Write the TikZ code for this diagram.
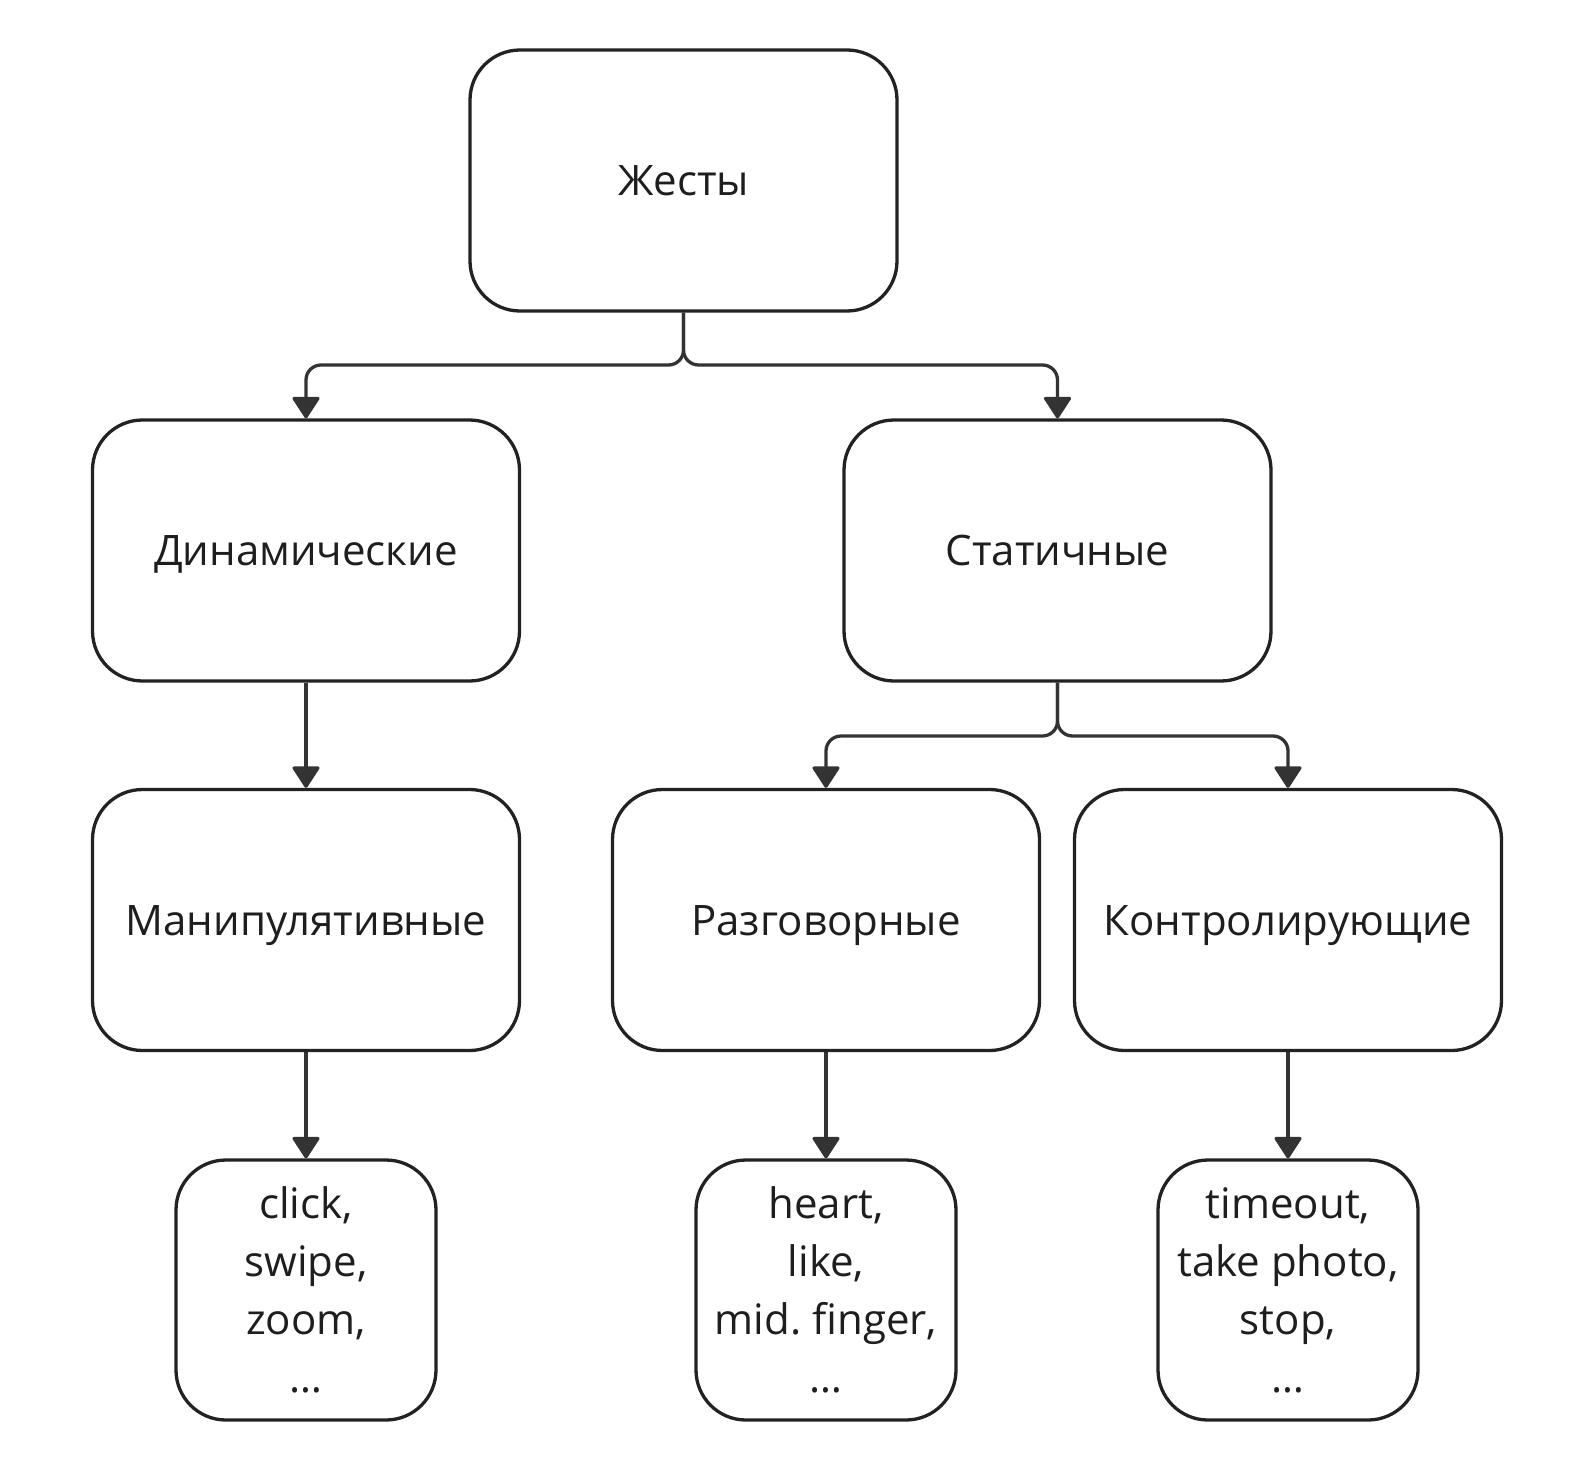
\documentclass[tikz,border=0pt]{standalone}
\usepackage{fontspec}
\setmainfont{Open Sans}
\usetikzlibrary{arrows.meta}
\definecolor{boxline}{HTML}{222222}
\definecolor{connline}{HTML}{333333}
\definecolor{txt}{HTML}{1E1E1E}
\frenchspacing
\begin{document}
\begin{tikzpicture}[x=1pt,y=-1pt,
  every node/.style={font=\fontsize{42}{58}\selectfont, text=txt},
  catbox/.style={draw=boxline, line width=3.3pt, rounded corners=50pt,
    minimum width=427pt, minimum height=261pt, text height=30pt, text depth=0pt, inner sep=0pt},
  leafbox/.style={draw=boxline, line width=3.3pt, rounded corners=50pt,
    minimum width=260pt, minimum height=260pt, align=center, inner sep=0pt},
  conn/.style={draw=connline, line width=3.3pt, rounded corners=15pt,
    -{Triangle[width=29pt,length=23pt,round]}}
]
\useasboundingbox (0,0) rectangle (1570,1474);

\node[catbox] (root) at (683.5,180.5) {Жесты};
\node[catbox] (dyn) at (306,550.5) {Динамические};
\node[catbox] (stat) at (1057.5,550.5) {Статичные};
\node[catbox] (man) at (306,920) {Манипулятивные};
\node[catbox] (razg) at (826,920) {Разговорные};
\node[catbox] (kontr) at (1288,920) {Контролирующие};
\node[leafbox] (leafa) at (306,1290) {click,\\swipe,\\zoom,\\…};
\node[leafbox] (leafb) at (826,1290) {heart,\\like,\\mid. finger,\\…};
\node[leafbox] (leafc) at (1288,1290) {timeout,\\take photo,\\stop,\\…};

\coordinate (j1) at (683.5,365);
\coordinate (j2) at (1057.5,736);

\draw[conn] (root.south) -- (j1) -| (dyn.north);
\draw[conn] (root.south) -- (j1) -| (stat.north);
\draw[conn] (stat.south) -- (j2) -| (razg.north);
\draw[conn] (stat.south) -- (j2) -| (kontr.north);
\draw[conn] (dyn) -- (man);
\draw[conn] (man) -- (leafa);
\draw[conn] (razg) -- (leafb);
\draw[conn] (kontr) -- (leafc);
\end{tikzpicture}
\end{document}
